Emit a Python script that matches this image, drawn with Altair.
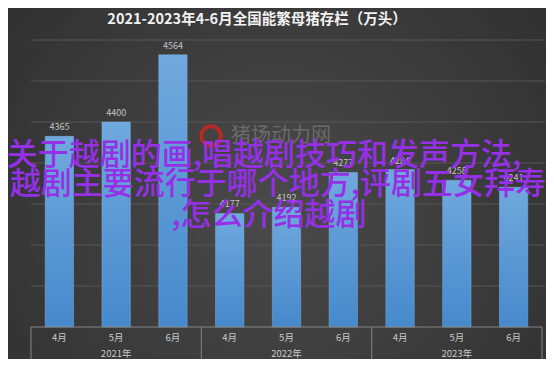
import altair as alt
import pandas as pd

years = ["2021年", "2021年", "2021年", "2022年", "2022年", "2022年", "2023年", "2023年", "2023年"]
months = ["4月", "5月", "6月", "4月", "5月", "6月", "4月", "5月", "6月"]
values = [4365, 4400, 4564, 4177, 4192, 4277, 4284, 4258, 4241]
y_ticks = [3900, 4000, 4100, 4200, 4300, 4400, 4500, 4600]
title_text = "2021-2023年4-6月全国能繁母猪存栏（万头）"
overlay_lines = ["关于越剧的画,唱越剧技巧和发声方法,", "越剧主要流行于哪个地方,评剧五女拜寿", ",怎么介绍越剧"]
site_mark = "猪场动力网"

keys = [y + m for y, m in zip(years, months)]
df = pd.DataFrame({"key": keys, "year": years, "month": months, "value": values})

W, H = 511, 287
FONT = "Noto Sans CJK SC"
half = W / 9 / 2

xscale = alt.Scale(domain=keys, paddingInner=0.5, paddingOuter=0.25)
yscale = alt.Scale(domain=[3900, 4600], nice=False, zero=False)

one = alt.Data(values=[{}])

bg = alt.Chart(one).mark_rect(
    fill=alt.Gradient(
        gradient="radial",
        stops=[alt.GradientStop(offset=0, color="#4a4a4a"), alt.GradientStop(offset=1, color="#2a2a2a")],
        x1=0.5, y1=0.55, r1=0, x2=0.5, y2=0.55, r2=0.8,
    )
).encode(x=alt.value(-23), x2=alt.value(W + 4), y=alt.value(-32), y2=alt.value(H + 32))

grid = alt.Chart(pd.DataFrame({"t": y_ticks[1:]})).mark_rule(color="#575757", strokeWidth=1).encode(
    y=alt.Y("t:Q", scale=yscale, axis=None), x=alt.value(0), x2=alt.value(W + 3)
)

bars = alt.Chart(df).mark_bar(
    fill=alt.Gradient(
        gradient="linear",
        stops=[alt.GradientStop(offset=0, color="#70a9de"), alt.GradientStop(offset=1, color="#4689cc")],
        x1=0, x2=0, y1=0, y2=1,
    ),
    stroke="#7fb3e3", strokeWidth=0.8, strokeOpacity=0.6,
).encode(
    x=alt.X("key:N", scale=xscale, axis=None, sort=keys),
    y=alt.Y("value:Q", scale=yscale, axis=alt.Axis(
        values=y_ticks, title=None, grid=False, domain=False, ticks=False,
        labelColor="#bdbdbd", labelFont=FONT, labelFontSize=9, labelPadding=7, zindex=1)),
    y2=alt.datum(3900),
)

labels = alt.Chart(df).mark_text(color="#c4c4c4", font=FONT, fontSize=9, baseline="bottom", dy=-4).encode(
    x=alt.X("key:N", scale=xscale, axis=None, sort=keys),
    y=alt.Y("value:Q", scale=yscale),
    text=alt.Text("value:Q"),
)

axis_line = alt.Chart(one).mark_rule(color="#858585", strokeWidth=1).encode(
    x=alt.value(0), x2=alt.value(W), y=alt.value(H)
)

month_text = alt.Chart(df).mark_text(color="#c8c8c8", font=FONT, fontSize=9.5).encode(
    x=alt.X("key:N", scale=xscale, axis=None, sort=keys),
    y=alt.value(H + 11),
    text="month:N",
)

year_df = df[df["month"] == "5月"]
year_text = alt.Chart(year_df).mark_text(color="#c8c8c8", font=FONT, fontSize=9.5).encode(
    x=alt.X("key:N", scale=xscale, axis=None, sort=keys),
    y=alt.value(H + 27),
    text="year:N",
)

sep_left = alt.Chart(df[df["month"] == "4月"]).mark_rule(color="#858585", strokeWidth=1, xOffset=-half).encode(
    x=alt.X("key:N", scale=xscale, axis=None, sort=keys),
    y=alt.value(H), y2=alt.value(H + 35),
)
sep_right = alt.Chart(df.tail(1)).mark_rule(color="#858585", strokeWidth=1, xOffset=half).encode(
    x=alt.X("key:N", scale=xscale, axis=None, sort=keys),
    y=alt.value(H), y2=alt.value(H + 35),
)

title = alt.Chart(one).mark_text(
    text=title_text, color="#f2f2f2", font=FONT, fontSize=14.5, fontWeight="bold"
).encode(x=alt.value(226), y=alt.value(-20))

logo = alt.Chart(one).mark_point(shape="circle", filled=False, color="#e0201a", strokeWidth=4, size=380).encode(
    x=alt.value(180), y=alt.value(96)
)
site = alt.Chart(one).mark_text(text=site_mark, color="#6a6a6a", font=FONT, fontSize=20, align="left").encode(
    x=alt.value(200), y=alt.value(96)
)

overlay_df = pd.DataFrame({
    "t": overlay_lines,
    "px": [233, 247, 238],
    "py": [116, 145, 176],
})
overlay = alt.Chart(overlay_df).mark_text(color="#9530e6", font=FONT, fontSize=31, fontWeight=500).encode(
    x=alt.X("px:Q", scale=None), y=alt.Y("py:Q", scale=None), text="t:N"
)

chart = alt.layer(
    bg, grid, bars, labels, axis_line, month_text, year_text, sep_left, sep_right, title, logo, site, overlay
).resolve_scale(x="shared", y="shared").properties(
    width=W, height=H,
    autosize=alt.AutoSizeParams(type="none"),
    padding={"left": 23, "top": 32, "right": 4, "bottom": 32},
    background="#333333",
).configure_view(stroke=None)

chart.save("out.html", embed_options={"renderer": "svg", "actions": False})
